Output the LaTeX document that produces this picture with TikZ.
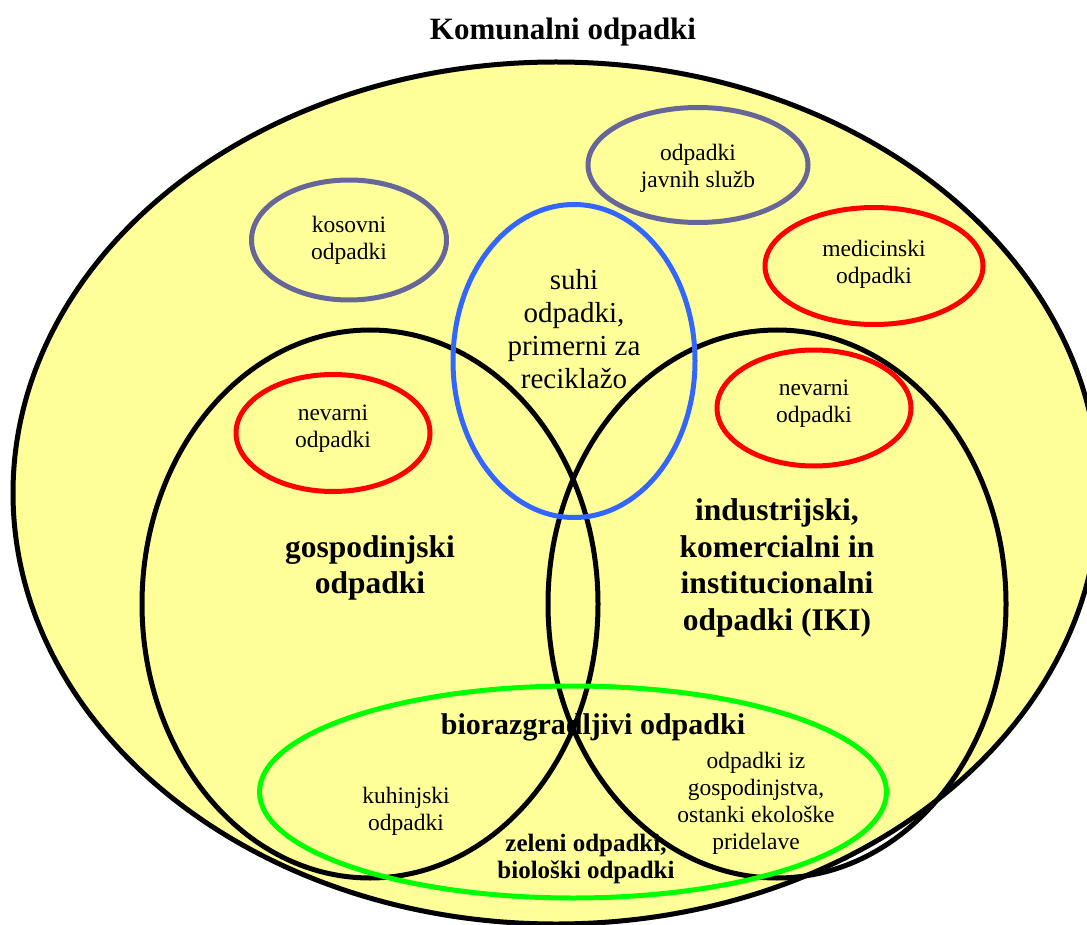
\documentclass[tikz,border=0pt]{standalone}
\usepackage{fontspec}
\setmainfont{Liberation Serif}
\usetikzlibrary{shapes.geometric}
\definecolor{fillcol}{RGB}{255,255,153}
\definecolor{graycol}{RGB}{102,102,153}
\definecolor{redcol}{RGB}{255,0,0}
\definecolor{bluecol}{RGB}{51,102,255}
\definecolor{greencol}{RGB}{0,255,0}

\begin{document}
\begin{tikzpicture}[x=1pt,y=-1pt,
  ring/.style={ellipse,draw,line width=5pt,inner sep=0pt},
  esize/.style 2 args={minimum width=#1pt,minimum height=#2pt},
  small/.style={align=center,font=\fontsize{23.5}{27}\selectfont},
  mid/.style={align=center,font=\fontsize{29}{33}\selectfont},
  big/.style={align=center,font=\bfseries\fontsize{31.5}{36.5}\selectfont},
  bold/.style={align=center,font=\bfseries\fontsize{25}{27}\selectfont},
]
\useasboundingbox (0,0) rectangle (1087,925);
\clip (0,0) rectangle (1087,925);

% --- title ---
\node[font=\bfseries\fontsize{31}{36}\selectfont] (tit) at (563,32) {Komunalni odpadki};

% --- all municipal waste ---
\node[ring,fill=fillcol,esize={1086}{862}] (kom) at (556,493) {};

% --- households and IKI ---
\node[ring,esize={456}{548}] (gos) at (370,604) {};
\node[ring,esize={458}{548}] (iki) at (777,604) {};

% --- smaller groups ---
\node[ring,draw=graycol,esize={195}{120}] (kos) at (349,240) {};
\node[ring,draw=graycol,esize={220}{115}] (jav) at (698,165) {};
\node[ring,draw=redcol,esize={218}{117}] (med) at (874,266) {};
\node[ring,draw=redcol,esize={194}{117}] (nevl) at (333,433) {};
\node[ring,draw=redcol,esize={194}{116}] (nevr) at (814,408) {};
\node[ring,draw=bluecol,esize={242}{313}] (suh) at (574,361) {};
\node[ring,draw=greencol,esize={627}{212}] (bio) at (573,792) {};

% --- labels ---
\node[small] (kost) at (349,240) {kosovni\\odpadki};
\node[small] (javt) at (698,168) {odpadki\\javnih služb};
\node[small] (medt) at (874,264) {medicinski\\odpadki};
\node[small] (nevlt) at (333,429) {nevarni\\odpadki};
\node[small] (nevrt) at (814,404) {nevarni\\odpadki};
\node[mid] (suht) at (574,329) {suhi\\odpadki,\\primerni za\\reciklažo};
\node[big] (gost) at (370,568) {gospodinjski\\odpadki};
\node[big] (ikit) at (777,568) {industrijski,\\komercialni in\\institucionalni\\odpadki (IKI)};
\node[font=\bfseries\fontsize{30}{34}\selectfont] (biot) at (593,727) {biorazgradljivi odpadki};
\node[small] (kuht) at (406,811) {kuhinjski\\odpadki};
\node[small] (ekot) at (756,803) {odpadki iz\\gospodinjstva,\\ostanki ekološke\\pridelave};
\node[bold] (zelt) at (586,859) {zeleni odpadki,\\biološki odpadki};
\end{tikzpicture}
\end{document}
